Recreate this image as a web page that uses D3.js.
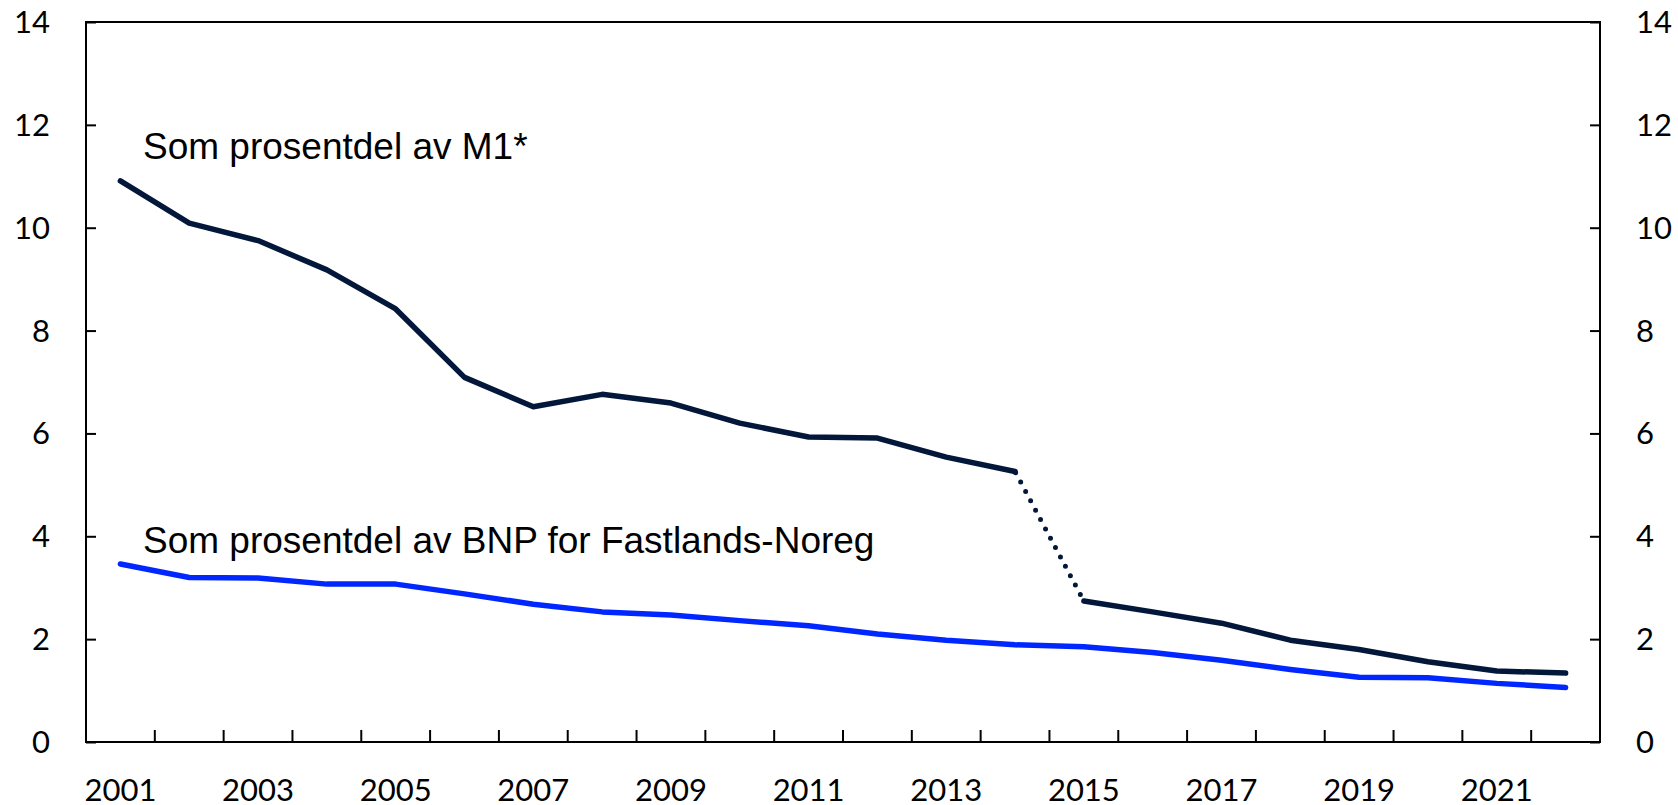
<!DOCTYPE html>
<html>
<head>
<meta charset="utf-8">
<script src="https://cdn.jsdelivr.net/npm/d3@7"></script>
<style>
  body { margin: 0; background: #fff; }
  svg { display: block; }
</style>
</head>
<body>
<div id="chart"></div>
<script>
const years = d3.range(2001, 2023).map(String);
const tickLabels = ["2001", "2003", "2005", "2007", "2009", "2011", "2013", "2015", "2017", "2019", "2021"];
const yTicks = [0, 2, 4, 6, 8, 10, 12, 14];

// Som prosentdel av M1 (brot i serien mellom 2014 og 2015)
const m1Values = [10.91, 10.09, 9.75, 9.18, 8.42, 7.09, 6.52, 6.76, 6.59, 6.20, 5.93,
                  5.91, 5.54, 5.26, 2.74, 2.53, 2.31, 1.98, 1.80, 1.56, 1.38, 1.34];
const breakAfter = "2014";

// Som prosentdel av BNP for Fastlands-Noreg
const bnpValues = [3.46, 3.20, 3.19, 3.07, 3.07, 2.88, 2.68, 2.53, 2.47, 2.36, 2.26,
                   2.10, 1.98, 1.89, 1.85, 1.74, 1.59, 1.41, 1.26, 1.25, 1.14, 1.06];

const labelM1 = "Som prosentdel av M1*";
const labelBnp = "Som prosentdel av BNP for Fastlands-Noreg";

const width = 1678, height = 805;
const margin = { top: 22, right: 78, bottom: 63, left: 86 };

const tickFont = "Lato, 'Open Sans', sans-serif";
const textFont = "'Liberation Sans', Arial, sans-serif";
const navy = "#03173a";
const blue = "#0027ff";
const lineW = 5.5;

var svg = d3.select("#chart")
  .append("svg")
  .attr("width", width)
  .attr("height", height);

const x = d3.scaleBand()
  .domain(years)
  .range([margin.left, width - margin.right])
  .padding(0);

const y = d3.scaleLinear()
  .domain([0, 14])
  .range([height - margin.bottom, margin.top]);

const cx = d => x(d) + x.bandwidth() / 2;

const m1 = years.map((yr, i) => ({ year: yr, value: m1Values[i] }));
const bnp = years.map((yr, i) => ({ year: yr, value: bnpValues[i] }));

// frame
svg.append("rect")
  .attr("x", margin.left)
  .attr("y", margin.top)
  .attr("width", width - margin.left - margin.right)
  .attr("height", height - margin.top - margin.bottom)
  .attr("fill", "none")
  .attr("stroke", "#000")
  .attr("stroke-width", 2);

// left axis
svg.append("g")
  .attr("transform", `translate(${margin.left},0)`)
  .call(d3.axisLeft(y).tickValues(yTicks).tickSize(-10).tickPadding(36))
  .call(g => g.select(".domain").remove())
  .call(g => g.selectAll("line").attr("stroke", "#000").attr("stroke-width", 2))
  .call(g => g.selectAll("text")
    .attr("font-family", tickFont)
    .attr("font-size", 31)
    .attr("fill", "#000")
    .attr("dy", "0.34em"));

// right axis
svg.append("g")
  .attr("transform", `translate(${width - margin.right},0)`)
  .call(d3.axisRight(y).tickValues(yTicks).tickSize(-10).tickPadding(36))
  .call(g => g.select(".domain").remove())
  .call(g => g.selectAll("line").attr("stroke", "#000").attr("stroke-width", 2))
  .call(g => g.selectAll("text")
    .attr("font-family", tickFont)
    .attr("font-size", 31)
    .attr("fill", "#000")
    .attr("dy", "0.34em"));

// bottom axis: ticks between the years, labels every second year
svg.append("g")
  .attr("transform", `translate(0,${height - margin.bottom})`)
  .selectAll("line")
  .data(years.slice(1))
  .enter().append("line")
  .attr("x1", d => x(d))
  .attr("x2", d => x(d))
  .attr("y1", 0)
  .attr("y2", -12)
  .attr("stroke", "#000")
  .attr("stroke-width", 2);

svg.append("g")
  .attr("transform", `translate(0,${height - margin.bottom})`)
  .call(d3.axisBottom(x).tickValues(tickLabels).tickSize(0))
  .call(g => g.select(".domain").remove())
  .call(g => g.selectAll("text")
    .attr("font-family", tickFont)
    .attr("font-size", 31)
    .attr("fill", "#000")
    .attr("y", 59)
    .attr("dy", 0));

// lines
const line = d3.line()
  .x(d => cx(d.year))
  .y(d => y(d.value));

const breakIdx = years.indexOf(breakAfter);

svg.append("path")
  .datum(bnp)
  .attr("d", line)
  .attr("fill", "none")
  .attr("stroke", blue)
  .attr("stroke-width", lineW)
  .attr("stroke-linejoin", "round")
  .attr("stroke-linecap", "round");

svg.append("path")
  .datum(m1.slice(0, breakIdx + 1))
  .attr("d", line)
  .attr("fill", "none")
  .attr("stroke", navy)
  .attr("stroke-width", lineW)
  .attr("stroke-linejoin", "round")
  .attr("stroke-linecap", "round");

svg.append("path")
  .datum(m1.slice(breakIdx + 1))
  .attr("d", line)
  .attr("fill", "none")
  .attr("stroke", navy)
  .attr("stroke-width", lineW)
  .attr("stroke-linejoin", "round")
  .attr("stroke-linecap", "round");

// dotted bridge over the break
svg.append("path")
  .datum(m1.slice(breakIdx, breakIdx + 2))
  .attr("d", line)
  .attr("fill", "none")
  .attr("stroke", navy)
  .attr("stroke-width", 5)
  .attr("stroke-linecap", "round")
  .attr("stroke-dasharray", "0 10.6")
  .attr("stroke-dashoffset", -12);

// series labels
svg.append("text")
  .attr("x", 143)
  .attr("y", 159)
  .attr("font-family", textFont)
  .attr("font-size", 37)
  .attr("fill", "#000")
  .text(labelM1);

svg.append("text")
  .attr("x", 143)
  .attr("y", 553)
  .attr("font-family", textFont)
  .attr("font-size", 37)
  .attr("fill", "#000")
  .text(labelBnp);
</script>
</body>
</html>
